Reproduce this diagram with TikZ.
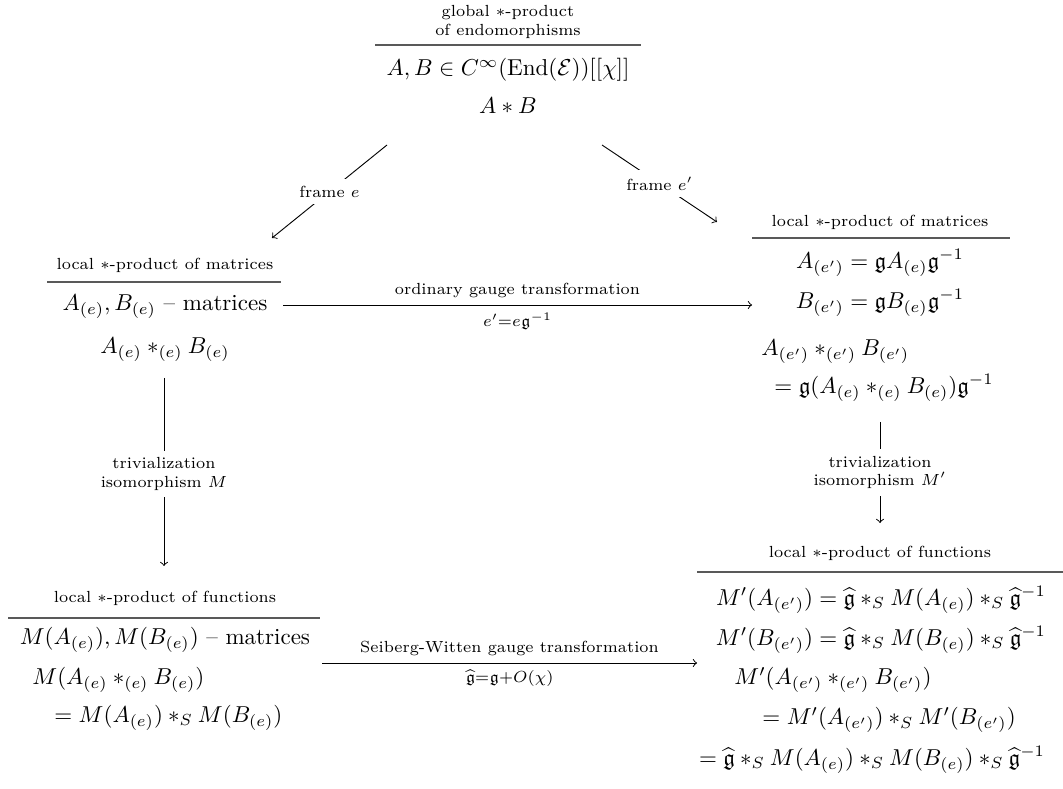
\documentclass[tikz,border=0pt]{standalone}
\usepackage{amsmath,amssymb}
\begin{document}
\begin{tikzpicture}[x=0.4348pt,y=-0.4348pt,
  lab/.style={font=\scriptsize,inner sep=1pt,align=center},
  txt/.style={inner sep=0pt},
  hrule/.style={draw=black!65,line width=0.5pt},
  arr/.style={->,line width=0.4pt},
  desc/.style={font=\scriptsize,fill=white,inner sep=3pt,align=center}]
\useasboundingbox (0,0) rectangle (1063,789);
% top block
\node[lab] (tl) at (508,22) {global $*$-product\\of endomorphisms};
\coordinate (tr1) at (375,45); \coordinate (tr2) at (641,45);
\draw[hrule] (tr1) -- (tr2);
\node[txt] (t1) at (508,70) {$A,B\in C^\infty(\mathrm{End}(\mathcal E))[[\chi]]$};
\node[txt] (t2) at (508,106) {$A*B$};
% left middle block
\node[lab] (ll) at (165,265) {local $*$-product of matrices};
\coordinate (lr1) at (47,282); \coordinate (lr2) at (281,282);
\draw[hrule] (lr1) -- (lr2);
\node[txt] (l1) at (165,307) {$A_{(e)},B_{(e)}$ -- matrices};
\node[txt] (l2) at (165,350) {$A_{(e)}*_{(e)}B_{(e)}$};
% right middle block
\node[lab] (rl) at (880,222) {local $*$-product of matrices};
\coordinate (rr1) at (752,238); \coordinate (rr2) at (1010,238);
\draw[hrule] (rr1) -- (rr2);
\node[txt] (r1) at (880,263) {$A_{(e')}=\mathfrak g A_{(e)}\mathfrak g^{-1}$};
\node[txt] (r2) at (880,303) {$B_{(e')}=\mathfrak g B_{(e)}\mathfrak g^{-1}$};
\node[txt,anchor=west] (r3) at (761,352) {$A_{(e')}*_{(e')}B_{(e')}$};
\node[txt,anchor=west] (r4) at (774,388) {$=\mathfrak g(A_{(e)}*_{(e)}B_{(e)})\mathfrak g^{-1}$};
% left bottom block
\node[lab] (bl) at (165,598) {local $*$-product of functions};
\coordinate (br1) at (8,618); \coordinate (br2) at (320,618);
\draw[hrule] (br1) -- (br2);
\node[txt] (b1) at (165,640) {$M(A_{(e)}),M(B_{(e)})$ -- matrices};
\node[txt,anchor=west] (b2) at (32,680) {$M(A_{(e)}*_{(e)}B_{(e)})$};
\node[txt,anchor=west] (b3) at (54,718) {$=M(A_{(e)})*_S M(B_{(e)})$};
% right bottom block
\node[lab] (sl) at (880,553) {local $*$-product of functions};
\coordinate (sr1) at (697,572); \coordinate (sr2) at (1063,572);
\draw[hrule] (sr1) -- (sr2);
\node[txt] (s1) at (881,600) {$M'(A_{(e')})=\widehat{\mathfrak g}*_S M(A_{(e)})*_S\widehat{\mathfrak g}^{-1}$};
\node[txt] (s2) at (881,640) {$M'(B_{(e')})=\widehat{\mathfrak g}*_S M(B_{(e)})*_S\widehat{\mathfrak g}^{-1}$};
\node[txt,anchor=west] (s3) at (734,680) {$M'(A_{(e')}*_{(e')}B_{(e')})$};
\node[txt,anchor=west] (s4) at (762,720) {$=M'(A_{(e')})*_S M'(B_{(e')})$};
\node[txt] (s5) at (872,760) {$=\widehat{\mathfrak g}*_S M(A_{(e)})*_S M(B_{(e)})*_S\widehat{\mathfrak g}^{-1}$};
% arrows
\coordinate (a1s) at (387,145); \coordinate (a1e) at (272,238);
\draw[arr] (a1s) -- node[desc] {frame $e$} (a1e);
\coordinate (a2s) at (602,145); \coordinate (a2e) at (717,222);
\draw[arr] (a2s) -- node[desc] {frame $e'$} (a2e);
\coordinate (a3s) at (283,305); \coordinate (a3e) at (752,305);
\draw[arr] (a3s) -- node[lab,above=2pt] {ordinary gauge transformation} node[lab,below=2pt] {$e'{=}e\mathfrak g^{-1}$} (a3e);
\coordinate (a4s) at (164,378); \coordinate (a4e) at (164,566);
\draw[arr] (a4s) -- node[desc,pos=0.51] {trivialization\\isomorphism $M$} (a4e);
\coordinate (a5s) at (880,422); \coordinate (a5e) at (880,523);
\draw[arr] (a5s) -- node[desc] {trivialization\\isomorphism $M'$} (a5e);
\coordinate (a6s) at (322,663); \coordinate (a6e) at (697,663);
\draw[arr] (a6s) -- node[lab,above=2pt] {Seiberg-Witten gauge transformation} node[lab,below=2pt] {$\widehat{\mathfrak g}{=}\mathfrak g{+}O(\chi)$} (a6e);
\end{tikzpicture}
\end{document}
